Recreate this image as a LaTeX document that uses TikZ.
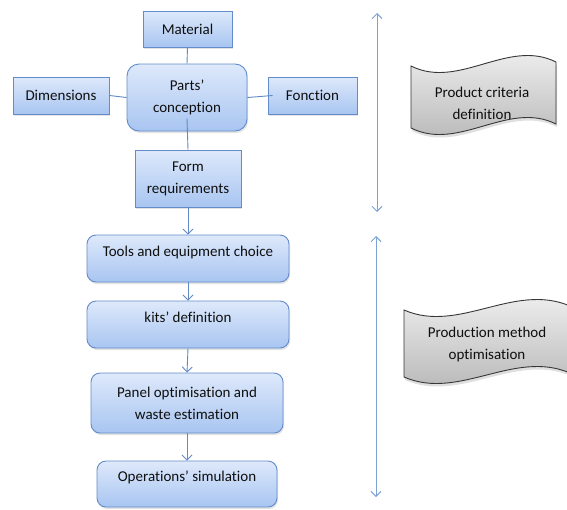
\documentclass[tikz,border=0pt]{standalone}
\usepackage{fontspec}
\setmainfont{Carlito}[Ligatures=NoCommon]
\usetikzlibrary{arrows.meta,shadows}
\definecolor{boxtop}{RGB}{222,233,251}
\definecolor{boxbot}{RGB}{168,197,241}
\definecolor{boxline}{RGB}{100,140,202}
\definecolor{linec}{RGB}{95,138,198}
\definecolor{arrc}{RGB}{125,162,212}
\definecolor{txtc}{RGB}{15,15,15}
\definecolor{bantop}{RGB}{245,245,245}
\definecolor{banbot}{RGB}{178,178,178}
\definecolor{banline}{RGB}{55,55,55}
\begin{document}
\begin{tikzpicture}[x=1pt,y=-1pt,
  every node/.style={text=txtc,font=\fontsize{15}{22}\selectfont},
  flowbox/.style={draw=boxline,line width=0.9pt,top color=boxtop,bottom color=boxbot,
     inner sep=0pt,align=center,
     drop shadow={opacity=0.22,shadow xshift=1pt,shadow yshift=-2pt}},
  rbox/.style={flowbox,rounded corners=9pt},
  conn/.style={draw=linec,line width=0.9pt},
  flowarrow/.style={conn,-{Straight Barb[length=5pt,width=10pt,line width=0.9pt]}},
  sidearrow/.style={draw=arrc,line width=1pt,
     {Straight Barb[length=5pt,width=10pt,line width=1pt]}-{Straight Barb[length=5pt,width=10pt,line width=1pt]}},
  banner/.style={draw=banline,line width=0.9pt,top color=bantop,bottom color=banbot,
     drop shadow={opacity=0.25,shadow xshift=1pt,shadow yshift=-3pt}},
  txt/.style={inner sep=0pt,align=center}
]
\fill[white] (0,0) rectangle (567,509);
\useasboundingbox (0,0) rectangle (567,509);

% top cluster
\node[flowbox,minimum width=89pt,minimum height=36pt] (mat) at (187.5,29) {Material};
\node[flowbox,rounded corners=12pt,minimum width=120pt,minimum height=67pt] (parts) at (187,97.5) {Parts’\\conception};
\node[flowbox,minimum width=96pt,minimum height=37pt] (dim) at (61,95.5) {Dimensions};
\node[flowbox,minimum width=89pt,minimum height=37pt] (fon) at (312.5,95.5) {Fonction};
\node[flowbox,minimum width=106pt,minimum height=57pt] (form) at (188,178.5) {Form\\requirements};

% lower flow
\node[rbox,minimum width=202pt,minimum height=47pt] (tools) at (188,258.5) {};
\node[txt] (toolst) at ([yshift=6pt]tools.center) {Tools and equipment choice};
\node[rbox,minimum width=202pt,minimum height=47pt] (kits) at (188,324.5) {};
\node[txt] (kitst) at ([yshift=7pt]kits.center) {kits’ definition};
\node[rbox,minimum width=192pt,minimum height=60pt] (panel) at (187,403) {Panel optimisation and\\waste estimation};
\node[rbox,minimum width=180pt,minimum height=46pt] (ops) at (187,484) {};
\node[txt] (opst) at ([yshift=7pt]ops.center) {Operations’ simulation};

% connectors
\draw[conn] (mat.south) -- (parts.north);
\draw[conn] (dim.east) -- (parts.west);
\draw[conn] (parts.east) -- ([xshift=5pt]fon.west);
\draw[conn] ([yshift=13pt]parts.south) -- (form.north);
\draw[flowarrow] (form.south) -- (tools.north);
\draw[flowarrow] (tools.south) -- (kits.north);
\draw[flowarrow] (kits.south) -- (panel.north);
\draw[flowarrow] (panel.south) -- (ops.north);

% side arrows
\coordinate (a1t) at (377,13);
\coordinate (a1b) at (377,212);
\coordinate (a2t) at (376,236);
\coordinate (a2b) at (376,497);
\draw[sidearrow] (a1t) -- (a1b);
\draw[sidearrow] (a2t) -- (a2b);

% banners
\path[banner] (411,66) .. controls (459,90) and (508,38) .. (556,62) -- (556,124)
   .. controls (508,100) and (459,152) .. (411,128) -- cycle;
\node[txt] (b1) at (482,103) {Product criteria\\definition};
\path[banner] (404,310) .. controls (459,334) and (514,282) .. (570,306) -- (570,373)
   .. controls (514,349) and (459,401) .. (404,377) -- cycle;
\node[txt] (b2) at (487,344) {Production method\\optimisation};
\end{tikzpicture}
\end{document}
